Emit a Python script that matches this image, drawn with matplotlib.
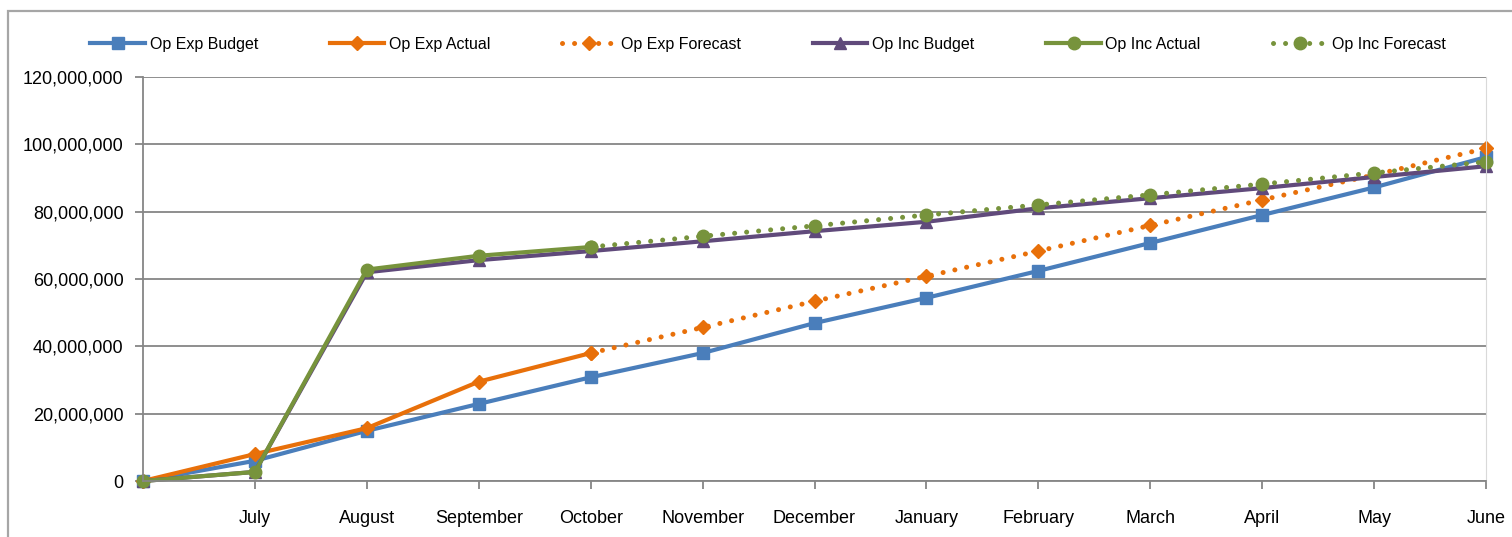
import matplotlib
matplotlib.use("Agg")
import matplotlib.pyplot as plt
from matplotlib.patches import Rectangle

# category axis: first slot is the unlabeled starting point
months = ["", "July", "August", "September", "October", "November", "December",
          "January", "February", "March", "April", "May", "June"]

# values in millions
op_exp_budget = [0, 6.0, 14.9, 22.9, 30.8, 38.0, 46.9, 54.4, 62.4, 70.7, 79.0, 87.2, 96.2]
op_exp_actual = [0, 8.0, 15.7, 29.5, 38.0]
op_exp_forecast = [38.0, 45.6, 53.4, 60.8, 68.3, 75.9, 83.5, 90.9, 98.8]
op_inc_budget = [0, 2.7, 62.0, 65.6, 68.3, 71.2, 74.2, 77.0, 81.0, 84.0, 87.0, 90.3, 93.5]
op_inc_actual = [0, 2.7, 62.8, 66.9, 69.5]
op_inc_forecast = [69.5, 72.7, 75.8, 79.0, 82.0, 85.0, 88.2, 91.5, 94.8]

forecast_start = 4  # October

blue = "#4A7EBB"
orange = "#E8700A"
purple = "#604A7B"
green = "#77933C"

plt.rcParams["font.family"] = ["Liberation Sans", "DejaVu Sans"]

fig = plt.figure(figsize=(15.12, 5.37), dpi=100)
ax = fig.add_axes([143 / 1512, 1 - 481 / 537, (1486 - 143) / 1512, (481 - 77) / 537])

# outer chart border
fig.patches.append(Rectangle((8 / 1512, -0.05), 1.1, 1.05 - 11 / 537, transform=fig.transFigure,
                             fill=False, edgecolor="#a6a6a6", linewidth=1.6))

x_all = list(range(len(months)))
x_act = x_all[:len(op_exp_actual)]
x_fc = x_all[forecast_start:forecast_start + len(op_exp_forecast)]
mil = lambda v: [a * 1e6 for a in v]

lw = 3.0
dot = (0, (0.01, 2.4))
ax.plot(x_all, mil(op_exp_budget), color=blue, lw=lw, marker="s", ms=9, label="Op Exp Budget", clip_on=False)
ax.plot(x_act, mil(op_exp_actual), color=orange, lw=lw, marker="D", ms=7, label="Op Exp Actual", clip_on=False)
ax.plot(x_fc, mil(op_exp_forecast), color=orange, lw=3.6, ls=dot, dash_capstyle="round",
        marker="D", ms=7, label="Op Exp Forecast", clip_on=False)
ax.plot(x_all, mil(op_inc_budget), color=purple, lw=lw, marker="^", ms=8, label="Op Inc Budget", clip_on=False)
ax.plot(x_act, mil(op_inc_actual), color=green, lw=lw, marker="o", ms=9, label="Op Inc Actual", clip_on=False)
ax.plot(x_fc, mil(op_inc_forecast), color=green, lw=3.6, ls=dot, dash_capstyle="round",
        marker="o", ms=9, label="Op Inc Forecast", clip_on=False)

ax.set_xlim(0, 12)
ax.set_ylim(0, 120e6)
ax.set_yticks([i * 20e6 for i in range(7)])
ax.set_yticklabels([f"{int(i * 20e6):,}" for i in range(7)])
ax.set_xticks(x_all)
ax.set_xticklabels(months)

ax.grid(axis="y", color="#868686", lw=1.3)
ax.set_axisbelow(True)
ax.spines["top"].set_visible(False)
ax.spines["right"].set_color("#d9d9d9")
ax.spines["left"].set_color("#868686")
ax.spines["bottom"].set_color("#868686")
ax.spines["left"].set_linewidth(1.3)
ax.spines["bottom"].set_linewidth(1.3)
ax.tick_params(axis="both", colors="#868686", labelcolor="black", labelsize=13, width=1.3, length=6)
ax.tick_params(axis="x", pad=15)
ax.tick_params(axis="y", pad=8)

fig.legend(loc="center", bbox_to_anchor=(768 / 1512, 1 - 44 / 537), ncol=6, frameon=False,
           fontsize=11.5, handlelength=3.4, columnspacing=4.5, handletextpad=0.3, numpoints=1)

fig.savefig("out.png", dpi=100)
